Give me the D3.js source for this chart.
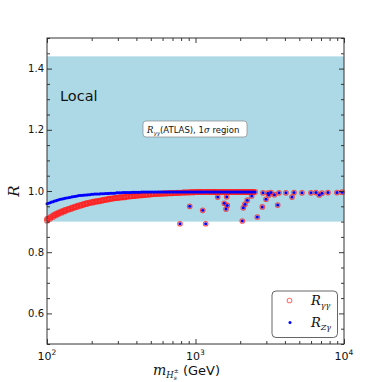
<!DOCTYPE html>
<html><head><meta charset="utf-8">
<script src="https://cdn.jsdelivr.net/npm/d3@7"></script>
<style>
html,body{margin:0;padding:0;background:#fff;}
svg{display:block;}
text{font-family:"DejaVu Sans",sans-serif;fill:#111;}
.math{font-family:"DejaVu Serif",serif;font-style:italic;}
</style></head><body>
<svg id="c" width="382" height="382"></svg>
<script>
// ---- data ----
const massDense = [100,105,110,115,120,126,132,139,146,153,160,168,176,185,194,204,214,225,236,248,260,273,287,301,316,332,348,366,384,403,423,444,466,490,514,540,567,595,625,656,689,723,760,798,838,880,924,970,1020,1070,1120,1180,1240,1300,1360,1430,1500,1580,1660,1740,1830,1920,2010,2110,2220,2330,2450];
const rggLow  = [0.903,0.909,0.915,0.920,0.925,0.929,0.933,0.938,0.941,0.945,0.948,0.951,0.954,0.957,0.960,0.962,0.964,0.966,0.968,0.970,0.972,0.974,0.976,0.977,0.978,0.979,0.981,0.982,0.983,0.984,0.985,0.986,0.987,0.988,0.989,0.990,0.990,0.991,0.991,0.992,0.992,0.993,0.993,0.994,0.994,0.995,0.995,0.995,0.996,0.996,0.996,0.996,0.996,0.996,0.996,0.996,0.996,0.996,0.996,0.996,0.996,0.996,0.996,0.996,0.996,0.996,0.996];
const rggHigh = [0.909,0.915,0.921,0.926,0.930,0.934,0.938,0.942,0.946,0.949,0.952,0.955,0.958,0.961,0.963,0.965,0.967,0.969,0.971,0.973,0.975,0.976,0.978,0.979,0.980,0.981,0.983,0.984,0.985,0.986,0.987,0.988,0.989,0.990,0.991,0.991,0.992,0.992,0.993,0.993,0.994,0.994,0.995,0.995,0.996,0.996,0.997,0.997,0.997,0.997,0.997,0.997,0.997,0.997,0.997,0.997,0.997,0.997,0.997,0.997,0.997,0.997,0.997,0.997,0.997,0.997,0.997];
const rzgDense = [0.958,0.962,0.965,0.968,0.971,0.974,0.976,0.978,0.980,0.982,0.984,0.985,0.986,0.987,0.988,0.989,0.990,0.990,0.991,0.992,0.992,0.993,0.993,0.994,0.994,0.995,0.995,0.995,0.996,0.996,0.996,0.997,0.997,0.997,0.997,0.997,0.997,0.997,0.997,0.997,0.997,0.997,0.997,0.997,0.997,0.997,0.997,0.997,0.997,0.997,0.997,0.997,0.997,0.997,0.997,0.997,0.997,0.997,0.997,0.997,0.997,0.997,0.997,0.997,0.997,0.997,0.997];
// second scan of the dense band, at the masses in between
const massDense2 = [102,107,112,117,123,129,135,142,149,156,164,172,180,189,199,209,219,230,242,254,266,280,294,308,324,340,357,375,393,413,433,455,478,502,527,553,581,610,640,672,706,741,779,818,859,902,947,995,1045,1095,1150,1210,1270,1330,1395,1465,1540,1620,1700,1785,1875,1965,2060,2165,2275,2390,2520];
const rggDense2 = [0.909,0.915,0.921,0.925,0.930,0.934,0.938,0.942,0.945,0.948,0.952,0.955,0.958,0.960,0.963,0.965,0.967,0.969,0.971,0.973,0.975,0.976,0.977,0.979,0.980,0.981,0.982,0.983,0.985,0.986,0.986,0.987,0.988,0.989,0.990,0.991,0.991,0.992,0.992,0.993,0.993,0.994,0.994,0.995,0.995,0.995,0.996,0.996,0.997,0.997,0.997,0.997,0.997,0.997,0.997,0.997,0.997,0.997,0.997,0.997,0.997,0.997,0.997,0.997,0.997,0.997,0.997];
const rzgDense2 = [0.960,0.964,0.967,0.970,0.973,0.975,0.977,0.979,0.981,0.983,0.985,0.986,0.987,0.988,0.989,0.990,0.990,0.991,0.991,0.992,0.993,0.993,0.994,0.994,0.995,0.995,0.995,0.996,0.996,0.996,0.997,0.997,0.997,0.997,0.997,0.997,0.997,0.997,0.997,0.997,0.997,0.997,0.997,0.997,0.997,0.997,0.997,0.997,0.997,0.997,0.997,0.997,0.997,0.997,0.997,0.997,0.997,0.997,0.997,0.997,0.997,0.997,0.997,0.997,0.997,0.997,0.997];
// scattered parameter points (both ratios nearly equal)
const massScatter = [786,1171,914,1118,1411,1563,1637,1605,1622,2066,2099,2154,2233,2390,2608,2818,2985,3577,4466,6820,2848,3076,3224,3650,4066,4607,5214,5993,6475,7112,7801,8972,9706,3120,3400];
const rggScatter  = [0.893,0.893,0.950,0.937,0.980,0.960,0.953,0.941,0.981,0.902,0.945,0.957,0.970,0.984,0.915,0.948,0.973,0.954,0.980,0.987,0.994,0.993,0.995,0.994,0.994,0.995,0.994,0.994,0.995,0.993,0.995,0.995,0.996,0.987,0.988];
const rzgScatter  = [0.893,0.893,0.950,0.937,0.980,0.960,0.953,0.941,0.981,0.902,0.945,0.957,0.970,0.984,0.915,0.948,0.973,0.954,0.980,0.987,0.994,0.993,0.995,0.994,0.994,0.995,0.994,0.994,0.995,0.993,0.995,0.995,0.996,0.987,0.988];
const atlasBand = [0.90, 1.44];
const yMajor = [0.6,0.8,1.0,1.2,1.4];
const yMinor = [0.5,0.55,0.65,0.7,0.75,0.85,0.9,0.95,1.05,1.1,1.15,1.25,1.3,1.35,1.45,1.5];
const xMajor = [100,1000,10000];
const xMajorLabels = ["2","3","4"];
const xMinor = [200,300,400,500,600,700,800,900,2000,3000,4000,5000,6000,7000,8000,9000];

// ---- layout ----
const L=47,R=344,T=38,B=344;
const svg=d3.select("#c");
const x=d3.scaleLog().domain([100,10000]).range([L,R]);
const y=d3.scaleLinear().domain([0.5,1.5]).range([B,T]);

// band
svg.append("rect").attr("x",L).attr("width",R-L)
  .attr("y",y(atlasBand[1])).attr("height",y(atlasBand[0])-y(atlasBand[1]))
  .attr("fill","#add8e6");

// points
const redPts=[];
massDense.forEach((m,i)=>{redPts.push([m,rggLow[i]]);redPts.push([m,rggHigh[i]]);});
massDense2.forEach((m,i)=>redPts.push([m,rggDense2[i]]));
massScatter.forEach((m,i)=>redPts.push([m,rggScatter[i]]));
const bluePts=massDense.map((m,i)=>[m,rzgDense[i]])
  .concat(massDense2.map((m,i)=>[m,rzgDense2[i]]))
  .concat(massScatter.map((m,i)=>[m,rzgScatter[i]]));

svg.append("g").selectAll("circle").data(redPts).join("circle")
  .attr("cx",d=>x(d[0])).attr("cy",d=>y(d[1])).attr("r",2.3)
  .attr("fill","none").attr("stroke","#ff2020").attr("stroke-width",1.1).attr("stroke-opacity",0.75);
svg.append("g").selectAll("circle").data(bluePts).join("circle")
  .attr("cx",d=>x(d[0])).attr("cy",d=>y(d[1])).attr("r",1.5)
  .attr("fill","#0000ff");

// axes (ticks inside, on all four sides)
function ax(gen,tr,vals,size){
  const g=svg.append("g").attr("transform",tr).call(gen.tickValues(vals).tickSize(size).tickFormat(""));
  g.select(".domain").remove();
  g.selectAll("line").attr("stroke","#222").attr("stroke-width",0.9);
  return g;
}
ax(d3.axisBottom(x),`translate(0,${B})`,xMajor,-5);
ax(d3.axisBottom(x),`translate(0,${B})`,xMinor,-3);
ax(d3.axisTop(x),`translate(0,${T})`,xMajor,-5);
ax(d3.axisTop(x),`translate(0,${T})`,xMinor,-3);
ax(d3.axisLeft(y),`translate(${L},0)`,yMajor,-5);
ax(d3.axisLeft(y),`translate(${L},0)`,yMinor,-3);
ax(d3.axisRight(y),`translate(${R},0)`,yMajor,-5);
ax(d3.axisRight(y),`translate(${R},0)`,yMinor,-3);
svg.append("rect").attr("x",L).attr("y",T).attr("width",R-L).attr("height",B-T)
  .attr("fill","none").attr("stroke","#333").attr("stroke-width",1);

// tick labels
svg.append("g").selectAll("text").data(yMajor).join("text")
  .attr("x",L-3).attr("y",d=>y(d)+3.5).attr("text-anchor","end")
  .attr("font-size",10).text(d=>d.toFixed(1));
const xl=svg.append("g").selectAll("text").data(xMajor).join("text")
  .attr("x",d=>x(d)).attr("y",B+16).attr("text-anchor","middle").attr("font-size",11);
xl.append("tspan").text("10");
xl.append("tspan").attr("dy",-5).attr("font-size",7.5).text((d,i)=>xMajorLabels[i]);

// axis titles
svg.append("text").attr("class","math").attr("font-size",15)
  .attr("transform",`translate(19,${y(1.0)}) rotate(-90)`).attr("text-anchor","middle").text("R");
const xt=svg.append("text").attr("x",153).attr("y",375).attr("font-size",13);
xt.append("tspan").attr("class","math").attr("font-size",14).text("m");
xt.append("tspan").attr("class","math").attr("font-size",8.5).attr("dy",3).text("H");
xt.append("tspan").attr("class","math").attr("font-size",6).attr("dy",2).text("s");
xt.append("tspan").attr("font-size",6).attr("dx",-3).attr("dy",-7).text("±");
xt.append("tspan").attr("dy",2).attr("font-size",13).text(" (GeV)");

// "Local"
svg.append("text").attr("x",60).attr("y",101).attr("font-size",14.5).text("Local");

// annotation box
svg.append("rect").attr("x",143).attr("y",121).attr("width",104).attr("height",16).attr("rx",3)
  .attr("fill","#fff").attr("stroke","#888").attr("stroke-width",0.7);
const an=svg.append("text").attr("x",147).attr("y",132.5).attr("font-size",8.5);
an.append("tspan").attr("class","math").text("R");
an.append("tspan").attr("class","math").attr("font-size",5.5).attr("dy",2).text("γγ");
an.append("tspan").attr("dy",-2).text("(ATLAS), 1");
an.append("tspan").attr("class","math").text("σ");
an.append("tspan").text(" region");

// legend
svg.append("rect").attr("x",272).attr("y",291).attr("width",65.5).attr("height",46.5).attr("rx",4)
  .attr("fill","#fff").attr("stroke","#555").attr("stroke-width",0.9);
svg.append("circle").attr("cx",289.5).attr("cy",300.5).attr("r",2.3).attr("fill","none")
  .attr("stroke","#ff2020").attr("stroke-width",1.1).attr("stroke-opacity",0.6);
svg.append("circle").attr("cx",290).attr("cy",322.5).attr("r",1.5).attr("fill","#0000ff");
const l1=svg.append("text").attr("x",311).attr("y",304.5).attr("font-size",13);
l1.append("tspan").attr("class","math").text("R");
l1.append("tspan").attr("class","math").attr("font-size",8).attr("dy",3).text("γγ");
const l2=svg.append("text").attr("x",311).attr("y",327).attr("font-size",13);
l2.append("tspan").attr("class","math").text("R");
l2.append("tspan").attr("class","math").attr("font-size",8).attr("dy",3).text("Zγ");
</script></body></html>
